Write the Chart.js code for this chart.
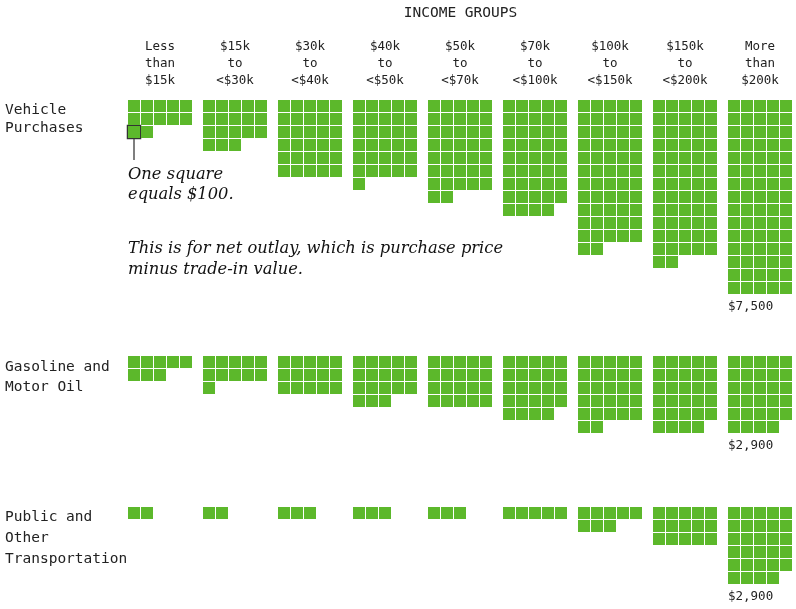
<!DOCTYPE html>
<html>
<head>
<meta charset="utf-8">
<script src="https://cdn.jsdelivr.net/npm/chart.js@4.4.1/dist/chart.umd.min.js"></script>
<style>
  html, body { margin: 0; padding: 0; background: #fff; }
  #wrap { width: 796px; height: 609px; }
</style>
</head>
<body>
<div id="wrap"><canvas id="chart" width="796" height="609"></canvas></div>
<script>
// Grupos de ingreso (encabezados de columna)
const grupos = [
    ['Less', 'than', '$15k'],
    ['$15k', 'to', '<$30k'],
    ['$30k', 'to', '<$40k'],
    ['$40k', 'to', '<$50k'],
    ['$50k', 'to', '<$70k'],
    ['$70k', 'to', '<$100k'],
    ['$100k', 'to', '<$150k'],
    ['$150k', 'to', '<$200k'],
    ['More', 'than', '$200k']
];

// Categorías de gasto (filas)
const categorias = [
    ['Vehicle', 'Purchases'],
    ['Gasoline and', 'Motor Oil'],
    ['Public and', 'Other', 'Transportation']
];

// Número de cuadros (un cuadro = $100) por grupo
const vehiculos = [12, 18, 30, 31, 37, 44, 57, 62, 75];
const gasolina = [8, 11, 15, 18, 20, 24, 27, 29, 29];
const transporte = [2, 2, 3, 3, 3, 5, 8, 15, 29];
const series = [vehiculos, gasolina, transporte];

// Layout
const CELDA = 13;
const LADO = 12;
const COLS = 5;
const X0 = 128;
const PASO_GRUPO = 75;
const filasY = [100, 356, 507];
const etiquetasY = [[110, 128], [367, 387], [517, 538, 559]];
const VERDE = '#5cb82b';
const MONO = '"DejaVu Sans Mono", monospace';
const SERIF = '"DejaVu Serif", serif';

// Construir los puntos del waffle a partir de los valores
function construirCeldas() {
    const puntos = [];
    series.forEach((valores, s) => {
        valores.forEach((n, g) => {
            for (let i = 0; i < n; i++) {
                const col = i % COLS;
                const fila = Math.floor(i / COLS);
                puntos.push({
                    x: X0 + g * PASO_GRUPO + col * CELDA + LADO / 2,
                    y: filasY[s] + fila * CELDA + LADO / 2
                });
            }
        });
    });
    return puntos;
}

// Cuadro de ejemplo (fila 3 del primer grupo de vehículos)
const ejemplo = {
    x: X0 + LADO / 2,
    y: filasY[0] + 2 * CELDA + LADO / 2
};

function filasDe(n) {
    return Math.ceil(n / COLS);
}

// Plugin de textos
const textos = {
    id: 'textos',
    afterDraw(chart) {
        const ctx = chart.ctx;
        const xs = chart.scales.x;
        const ys = chart.scales.y;
        ctx.save();
        ctx.textBaseline = 'middle';

        // Título
        ctx.fillStyle = '#222';
        ctx.font = '14.5px ' + MONO;
        ctx.textAlign = 'center';
        const centro = X0 + (grupos.length * PASO_GRUPO - (PASO_GRUPO - COLS * CELDA)) / 2;
        ctx.fillText('INCOME GROUPS', centro, 13);

        // Encabezados de grupo
        ctx.font = '12.5px ' + MONO;
        grupos.forEach((lineas, g) => {
            const cx = X0 + g * PASO_GRUPO + (COLS * CELDA - 1) / 2;
            lineas.forEach((t, k) => ctx.fillText(t, cx, 47 + k * 17));
        });

        // Etiquetas de fila
        ctx.textAlign = 'left';
        ctx.font = '14.5px ' + MONO;
        categorias.forEach((lineas, s) => {
            lineas.forEach((t, k) => ctx.fillText(t, 5, etiquetasY[s][k]));
        });

        // Totales del último grupo
        ctx.font = '12.5px ' + MONO;
        series.forEach((valores, s) => {
            const g = valores.length - 1;
            const n = valores[g];
            const total = '$' + (n * 100).toLocaleString('en-US');
            const yFondo = filasY[s] + filasDe(n) * CELDA - 1;
            ctx.fillText(total, X0 + g * PASO_GRUPO, yFondo + 13);
        });

        // Línea del cuadro de ejemplo
        const ex = xs.getPixelForValue(ejemplo.x);
        const ey = ys.getPixelForValue(ejemplo.y);
        ctx.strokeStyle = '#555';
        ctx.lineWidth = 1.5;
        ctx.beginPath();
        ctx.moveTo(ex, ey + LADO / 2 + 1);
        ctx.lineTo(ex, 160);
        ctx.stroke();

        // Notas
        ctx.fillStyle = '#111';
        ctx.font = 'italic 16.3px ' + SERIF;
        ctx.fillText('One square', 128, 175);
        ctx.fillText('equals $100.', 128, 195);
        ctx.fillText('This is for net outlay, which is purchase price', 128, 249);
        ctx.fillText('minus trade-in value.', 128, 270);

        ctx.restore();
    }
};

document.addEventListener('DOMContentLoaded', () => {
    const ctx = document.getElementById('chart').getContext('2d');
    new Chart(ctx, {
        type: 'scatter',
        data: {
            datasets: [{
                data: construirCeldas(),
                pointStyle: 'rect',
                pointRadius: LADO / 2 / Math.SQRT1_2,
                pointBackgroundColor: VERDE,
                pointBorderWidth: 0,
                clip: false
            }, {
                data: [ejemplo],
                pointStyle: 'rect',
                pointRadius: (LADO + 1) / 2 / Math.SQRT1_2,
                pointBackgroundColor: 'rgba(0,0,0,0)',
                pointBorderColor: '#333',
                pointBorderWidth: 1.5,
                clip: false
            }]
        },
        options: {
            responsive: false,
            animation: false,
            events: [],
            layout: { padding: 0, autoPadding: false },
            plugins: {
                legend: { display: false },
                tooltip: { enabled: false }
            },
            scales: {
                x: { type: 'linear', min: 0, max: 796, display: false },
                y: { type: 'linear', min: 0, max: 609, reverse: true, display: false }
            }
        },
        plugins: [textos]
    });
});
</script>
</body>
</html>
